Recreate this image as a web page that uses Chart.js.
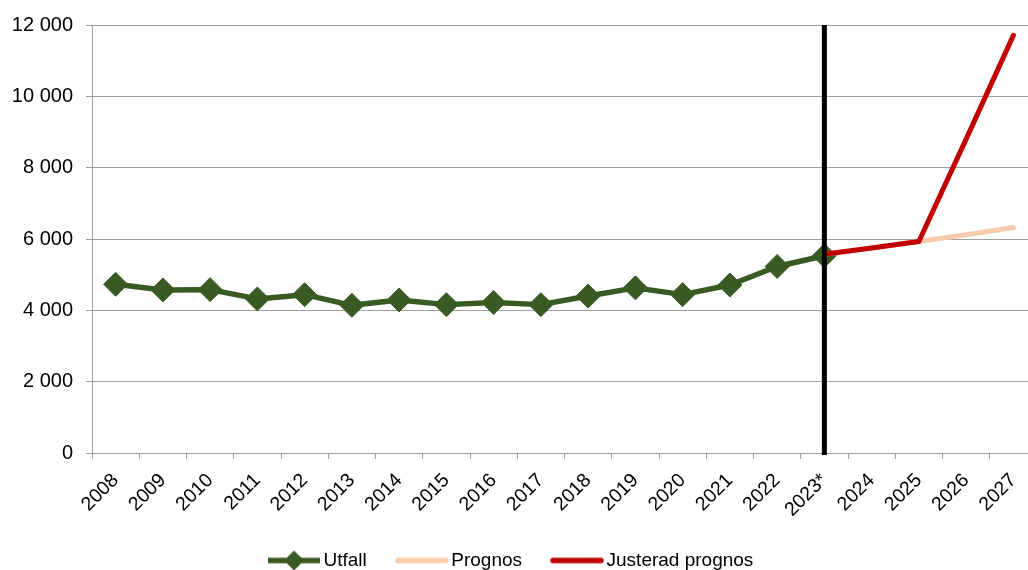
<!DOCTYPE html>
<html><head><meta charset="utf-8">
<script src="https://cdn.jsdelivr.net/npm/chart.js@4.4.1/dist/chart.umd.min.js"></script>
<style>
html,body{margin:0;padding:0;overflow:hidden;background:#fff;width:1028px;height:570px;}
#wrap{position:absolute;left:0;top:0;width:1050px;height:580px;}
</style></head><body>
<div id="wrap"><canvas id="c"></canvas></div>
<script>
const categories = ['2008','2009','2010','2011','2012','2013','2014','2015','2016','2017','2018','2019','2020','2021','2022','2023*','2024','2025','2026','2027'];
const utfall = [4730, 4570, 4580, 4320, 4440, 4140, 4290, 4160, 4220, 4160, 4400, 4630, 4440, 4710, 5230, 5530, null, null, null, null];
const prognos = [null, null, null, null, null, null, null, null, null, null, null, null, null, null, null, 5570, 5750, 5930, 6120, 6320];
const justeradPrognos = [null, null, null, null, null, null, null, null, null, null, null, null, null, null, null, 5570, 5750, 5930, 8800, 11710];
const yTickValues = [0, 2000, 4000, 6000, 8000, 10000, 12000];
const seriesNames = ['Utfall', 'Prognos', 'Justerad prognos'];
const dividerCategory = '2023*';

const GREEN = '#3A5A24', PEACH = '#F8CBAD', RED = '#C00000', GRID = '#A0A0A0';
const FONT = "'Liberation Sans', Arial, sans-serif";

function fmt(v) { return String(v).replace(/\B(?=(\d{3})+(?!\d))/g, ' '); }

function legendImage(color, diamond) {
  const c = document.createElement('canvas');
  c.width = 54; c.height = 24;
  const g = c.getContext('2d');
  g.strokeStyle = color; g.lineWidth = 5.5; g.lineCap = diamond ? 'butt' : 'round';
  g.beginPath(); g.moveTo(diamond ? 1 : 3, 12); g.lineTo(diamond ? 53 : 51, 12); g.stroke();
  if (diamond) {
    g.fillStyle = color;
    g.beginPath(); g.moveTo(27, 2); g.lineTo(37, 12); g.lineTo(27, 22); g.lineTo(17, 12); g.closePath(); g.fill();
  }
  return c;
}
const legendImgs = [legendImage(GREEN, true), legendImage(PEACH, false), legendImage(RED, false)];

const dividerPlugin = {
  id: 'divider',
  afterDatasetsDraw(chart) {
    const x = chart.scales.x.getPixelForValue(categories.indexOf(dividerCategory));
    const {top, bottom} = chart.chartArea;
    const ctx = chart.ctx;
    ctx.save();
    ctx.strokeStyle = '#000'; ctx.lineWidth = 5;
    ctx.beginPath(); ctx.moveTo(x, top); ctx.lineTo(x, bottom + 2); ctx.stroke();
    ctx.restore();
  }
};

const legendShift = {
  id: 'legendShift',
  afterLayout(chart) {
    const lg = chart.legend;
    if (!lg || !lg.lineWidths) return;
    const pad = lg.options.labels.padding;
    const x0 = (lg.left + pad + lg.right - lg.lineWidths[0]) / 2;
    const dx = 274 - x0;
    lg.left += dx; lg.right += dx;
  }
};

new Chart(document.getElementById('c'), {
  type: 'line',
  data: {
    labels: categories,
    datasets: [
      { label: seriesNames[0], data: utfall, order: 3, borderColor: GREEN, backgroundColor: GREEN, borderWidth: 5.5,
        pointStyle: 'rectRot', pointRadius: 12, pointHoverRadius: 12, pointBackgroundColor: GREEN, pointBorderColor: GREEN, pointBorderWidth: 1,
        tension: 0, borderJoinStyle: 'round' },
      { label: seriesNames[1], data: prognos, order: 2, borderColor: PEACH, backgroundColor: PEACH, borderWidth: 5,
        pointRadius: 0, pointHoverRadius: 0, tension: 0, borderCapStyle: 'round', borderJoinStyle: 'round' },
      { label: seriesNames[2], data: justeradPrognos, order: 1, borderColor: RED, backgroundColor: RED, borderWidth: 5,
        pointRadius: 0, pointHoverRadius: 0, tension: 0, borderCapStyle: 'round', borderJoinStyle: 'round' }
    ]
  },
  options: {
    responsive: true, maintainAspectRatio: false, animation: false, devicePixelRatio: 1,
    layout: { padding: { top: 22, right: 12, left: 0, bottom: 0 } },
    scales: {
      x: {
        offset: true,
        grid: { offset: true, drawOnChartArea: false, drawTicks: true, tickLength: 6, color: GRID, lineWidth: 1 },
        border: { color: GRID, width: 1 },
        ticks: { autoSkip: false, maxRotation: 45, minRotation: 45, padding: 10, color: '#000', font: { family: FONT, size: 19.5 } },
        afterFit(s) { s.height = 63; }
      },
      y: {
        min: 0, max: 12000,
        afterBuildTicks(s) { s.ticks = yTickValues.map(v => ({ value: v })); },
        grid: { color: GRID, lineWidth: 1, tickLength: 6, drawTicks: true },
        border: { color: GRID, width: 1 },
        ticks: { padding: 13, color: '#000', font: { family: FONT, size: 20 }, callback: v => fmt(v) },
        afterFit(s) { s.width = 92; }
      }
    },
    plugins: {
      tooltip: { enabled: false },
      legend: {
        position: 'bottom',
        labels: {
          usePointStyle: true, pointStyleWidth: 40, padding: 35, color: '#000',
          font: { family: FONT, size: 19 },
          generateLabels(chart) {
            return chart.data.datasets.map((ds, i) => ({
              text: ds.label, pointStyle: legendImgs[i], datasetIndex: i, hidden: false,
              fillStyle: ds.borderColor, strokeStyle: ds.borderColor, lineWidth: 0, fontColor: '#000'
            }));
          }
        }
      }
    }
  },
  plugins: [dividerPlugin, legendShift]
});
</script>
</body></html>
